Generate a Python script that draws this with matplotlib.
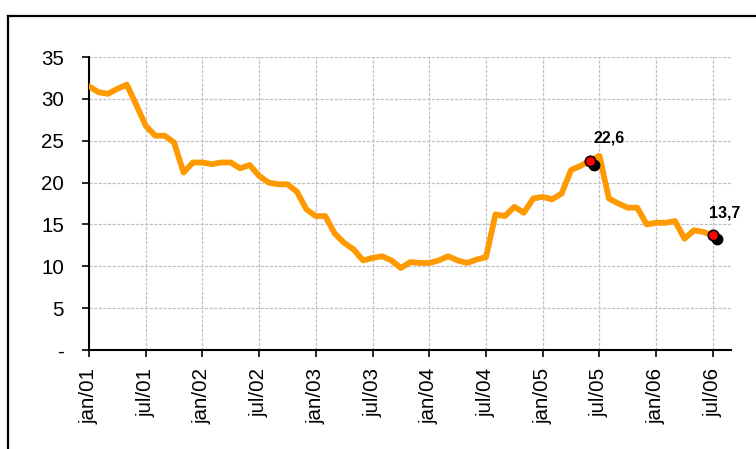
import matplotlib.pyplot as plt
import matplotlib.transforms as mtransforms
from matplotlib.lines import Line2D

plt.rcParams['font.family'] = ['Liberation Sans', 'DejaVu Sans']

# valores mensais, jan/01 ate jul/06
valores = [31.5, 30.8, 30.6, 31.2, 31.7, 29.3, 26.8, 25.6, 25.6, 24.8,
           21.2, 22.4, 22.4, 22.2, 22.4, 22.4, 21.7, 22.1, 20.8, 20.0,
           19.8, 19.8, 18.9, 16.8, 16.0, 16.0, 13.9, 12.8, 12.0, 10.7,
           11.0, 11.2, 10.7, 9.8, 10.5, 10.4, 10.4, 10.7, 11.2, 10.7,
           10.4, 10.8, 11.1, 16.2, 16.0, 17.1, 16.4, 18.1, 18.3, 18.0,
           18.7, 21.5, 22.0, 22.6, 23.2, 18.1, 17.5, 17.0, 17.0, 15.0,
           15.2, 15.2, 15.4, 13.3, 14.3, 14.1, 13.7]
rotulos_x = ['jan/01', 'jul/01', 'jan/02', 'jul/02', 'jan/03', 'jul/03',
             'jan/04', 'jul/04', 'jan/05', 'jul/05', 'jan/06', 'jul/06']
ticks_y = [0, 5, 10, 15, 20, 25, 30, 35]
rotulos_y = ['-', '5', '10', '15', '20', '25', '30', '35']

# pontos destacados
destaque_idx = [53, 66]
destaque_val = [22.6, 13.7]
destaque_txt = ['22,6', '13,7']

fig = plt.figure(figsize=(7.56, 4.49), dpi=100)
ax = fig.add_axes([0.1177, 0.2205, 0.849, 0.6525])

meses = list(range(len(valores)))
ax.plot(meses, valores, color='#FF9900', lw=4.2, solid_joinstyle='round', zorder=3)

# sombra preta + marcador vermelho
sombra = mtransforms.offset_copy(ax.transData, fig=fig, x=4, y=-4, units='dots')
ax.plot(destaque_idx, destaque_val, 'o', color='black', ms=7.5,
        transform=sombra, zorder=4, linestyle='none')
ax.plot(destaque_idx, destaque_val, 'o', mfc='red', mec='black', mew=1.2,
        ms=7.5, zorder=5, linestyle='none')
offsets = [(4, 15), (-4, 15)]
for i, v, t, off in zip(destaque_idx, destaque_val, destaque_txt, offsets):
    ax.annotate(t, (i, v), xytext=off, textcoords='offset pixels',
                fontsize=11.5, fontweight='bold', ha='left', va='bottom',
                annotation_clip=False)

ax.set_xlim(0, 67.9)
ax.set_ylim(0, 35)
ax.set_xticks([6 * k for k in range(len(rotulos_x))])
ax.set_xticklabels(rotulos_x, rotation=90, fontsize=14.8)
ax.set_yticks(ticks_y)
ax.set_yticklabels(rotulos_y, fontsize=14.8)
ax.tick_params(axis='y', length=5, width=1.2, pad=13)
ax.tick_params(axis='x', length=5, width=1.2, pad=8)

ax.grid(True, color='#c0c0c0', linestyle='--', lw=0.9, dashes=(2.5, 1.2))
ax.set_axisbelow(True)
for s in ['top', 'right']:
    ax.spines[s].set_visible(False)
for s in ['left', 'bottom']:
    ax.spines[s].set_linewidth(1.5)

# moldura do grafico
fig.add_artist(Line2D([0.0112, 0.0112], [0.0, 0.9644], color='black', lw=1.6))
fig.add_artist(Line2D([0.0112, 1.0], [0.9644, 0.9644], color='black', lw=1.6))

fig.savefig('out.png', dpi=100)
